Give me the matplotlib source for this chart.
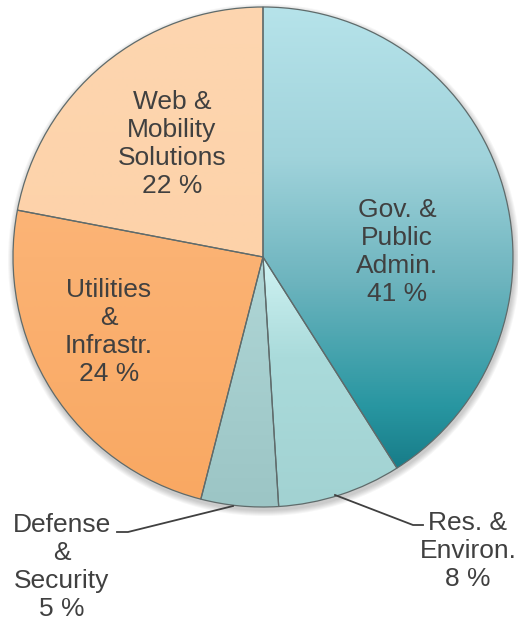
import matplotlib
matplotlib.use('Agg')
import matplotlib.pyplot as plt
import numpy as np
from matplotlib.colors import LinearSegmentedColormap
from matplotlib.patches import Circle

# ---- data ----
categories = ["Gov. &\nPublic\nAdmin.", "Res. &\nEnviron.", "Defense\n&\nSecurity",
              "Utilities\n&\nInfrastr.", "Web &\nMobility\nSolutions"]
shares = [41, 8, 5, 24, 22]

# ---- styles / layout ----
gradients = [
    [(0, '#b6e3ea'), (0.3, '#a0d3db'), (0.55, '#6db4be'), (0.8, '#2896a1'), (1, '#0d6c79')],
    [(0, '#d8f8f8'), (0.5, '#d0f3f3'), (0.7, '#aadbdb'), (1, '#a2d2d2')],
    [(0, '#b6dada'), (0.5, '#b0d6d6'), (0.8, '#a3cccc'), (1, '#9cc5c5')],
    [(0, '#fcbc84'), (0.5, '#fbb273'), (1, '#f9a862')],
    [(0, '#fdd6b0'), (0.5, '#fdd2a9'), (1, '#fccb9e')],
]
label_pos = [(397, 372), (468, 73), (62, 57), (109, 292), (172, 480)]
text_color = '#404040'

W, H = 518, 624
cx, cy, R = 263, H - 257, 250

fig = plt.figure(figsize=(W / 100, H / 100), dpi=100)
ax = fig.add_axes([0, 0, 1, 1])

# soft shadow
for k in range(1, 7):
    ax.add_patch(Circle((cx + 1, cy - 3), R + k, color='#000000', alpha=0.035, zorder=0, lw=0))

wedges, _ = ax.pie(shares, startangle=90, counterclock=False, center=(cx, cy), radius=R,
                   wedgeprops=dict(linewidth=0.9, edgecolor='#5f6b6b'))

grad = np.linspace(0, 1, 512).reshape(-1, 1)
for w, g in zip(wedges, gradients):
    cmap = LinearSegmentedColormap.from_list('', g)
    im = ax.imshow(grad, cmap=cmap, extent=(cx - R, cx + R, cy - R, cy + R),
                   origin='upper', aspect='auto', zorder=1, interpolation='bilinear')
    im.set_clip_path(w)
    w.set_facecolor('none')
    w.set_zorder(3)

for cat, v, (x, y) in zip(categories, shares, label_pos):
    ax.text(x, y, f"{cat}\n{v} %", ha='center', va='center', fontsize=19,
            family='Liberation Sans', color=text_color, linespacing=1.22, zorder=5)

# leader lines
ax.plot([117, 128, 233], [H - 532, H - 532, H - 506], color='#404040', lw=1.3, zorder=4)
ax.plot([335, 413, 423], [H - 495, H - 525, H - 525], color='#404040', lw=1.3, zorder=4)

ax.set_xlim(0, W)
ax.set_ylim(0, H)
ax.axis('off')
fig.savefig('out.png', dpi=100)
